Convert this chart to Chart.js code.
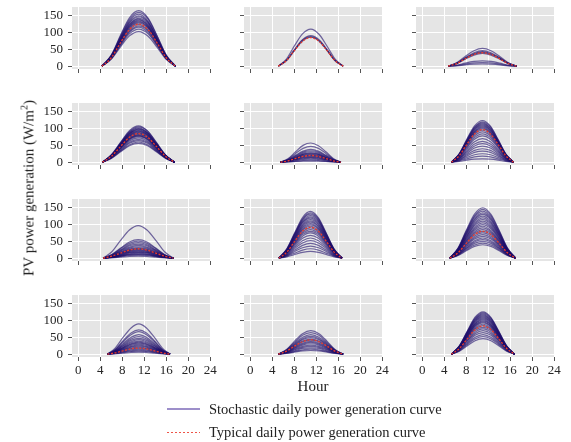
<!DOCTYPE html>
<html>
<head>
<meta charset="utf-8">
<script src="https://cdn.jsdelivr.net/npm/chart.js@4.4.1/dist/chart.umd.min.js"></script>
<style>
  html, body { margin: 0; padding: 0; background: #fff; }
  body { width: 571px; height: 442px; position: relative; overflow: hidden; font-family: "Liberation Serif", "DejaVu Serif", serif; color: #222; }
  canvas { position: absolute; }
  .txt { position: absolute; white-space: nowrap; font-size: 15px; line-height: 1; }
  #ylab { left: 28px; top: 188px; transform: translate(-50%, -50%) rotate(-90deg); }
  #xlab { left: 313px; top: 386px; transform: translate(-50%, -50%); }
  .leg { position: absolute; left: 167px; height: 16px; }
  .leg .sample { position: absolute; left: 0; width: 33px; }
  .leg .lab { position: absolute; left: 42px; top: 0; font-size: 14.5px; line-height: 16px; white-space: nowrap; }
</style>
</head>
<body>
<div id="charts"></div>
<div class="txt" id="ylab">PV power generation (W/m<sup style="font-size:10px;vertical-align:6px">2</sup>)</div>
<div class="txt" id="xlab">Hour</div>
<div class="leg" style="top:401px"><div class="sample" style="top:7px;height:1.5px;background:#9d8fca"></div><div class="lab">Stochastic daily power generation curve</div></div>
<div class="leg" style="top:424px"><div class="sample" style="top:7.5px;height:1px;background:repeating-linear-gradient(to right,#ee5548 0 2px,transparent 2px 4px)"></div><div class="lab">Typical daily power generation curve</div></div>
<script>
// ---------------- DATA ----------------
const X_TICKS = [0, 4, 8, 12, 16, 20, 24];
const Y_TICKS = [0, 50, 100, 150];

// Panel 1 (row 1, col 1)
const HOURS_1 = [4.3, 6.0, 7.65, 9.3, 11, 12.7, 14.35, 16.0, 17.7];
const CURVES_1 = [
  [0, 33, 91, 144, 165, 143, 90, 32, 0],
  [0, 32, 88, 139, 160, 140, 89, 33, 0],
  [0, 31, 85, 135, 155, 134, 84, 30, 0],
  [0, 30, 83, 131, 150, 131, 82, 30, 0],
  [0, 29, 81, 128, 147, 129, 82, 30, 0],
  [0, 29, 79, 124, 143, 125, 78, 28, 0],
  [0, 28, 77, 122, 140, 121, 76, 28, 0],
  [0, 27, 75, 119, 137, 120, 76, 28, 0],
  [0, 27, 74, 117, 134, 116, 73, 26, 0],
  [0, 26, 72, 114, 131, 115, 72, 26, 0],
  [0, 26, 70, 111, 128, 112, 71, 26, 0],
  [0, 25, 68, 108, 124, 107, 67, 24, 0],
  [0, 24, 66, 104, 120, 105, 66, 24, 0],
  [0, 23, 64, 101, 116, 100, 63, 23, 0],
  [0, 22, 61, 96, 110, 96, 61, 22, 0],
  [0, 21, 57, 90, 103, 89, 56, 20, 0]
];
const TYPICAL_1 = [0, 25, 69, 109, 125, 109, 69, 25, 0];

// Panel 2 (row 1, col 2)
const HOURS_2 = [5.1, 6.6, 8.05, 9.5, 11, 12.5, 13.95, 15.4, 16.9];
const CURVES_2 = [
  [0, 22, 61, 96, 110, 95, 60, 22, 0],
  [0, 18, 50, 79, 91, 79, 50, 18, 0],
  [0, 18, 48, 77, 88, 76, 48, 17, 0],
  [0, 17, 47, 75, 86, 75, 47, 17, 0]
];
const TYPICAL_2 = [0, 17, 47, 74, 85, 74, 47, 17, 0];

// Panel 3 (row 1, col 3)
const HOURS_3 = [4.7, 6.3, 7.8, 9.4, 10.95, 12.5, 14.1, 15.6, 17.2];
const CURVES_3 = [
  [0, 11, 29, 46, 53, 46, 29, 11, 0],
  [0, 9, 25, 40, 46, 40, 25, 9, 0],
  [0, 9, 24, 37, 43, 37, 24, 9, 0],
  [0, 8, 23, 36, 41, 36, 23, 8, 0],
  [0, 8, 21, 33, 38, 33, 21, 8, 0],
  [0, 3, 9, 14, 16, 14, 9, 3, 0],
  [0, 2, 6, 10, 11, 10, 6, 2, 0],
  [0, 1, 4, 6, 7, 6, 4, 1, 0]
];
const TYPICAL_3 = [0, 8, 22, 35, 40, 35, 22, 8, 0];

// Panel 4 (row 2, col 1)
const HOURS_4 = [4.4, 6.0, 7.7, 9.3, 10.95, 12.6, 14.2, 15.9, 17.5];
const CURVES_4 = [
  [0, 22, 59, 94, 108, 93, 59, 21, 0],
  [0, 21, 58, 91, 105, 92, 58, 21, 0],
  [0, 20, 56, 89, 102, 88, 55, 20, 0],
  [0, 20, 55, 87, 100, 87, 55, 20, 0],
  [0, 20, 54, 85, 98, 86, 54, 19, 0],
  [0, 19, 53, 84, 96, 83, 52, 19, 0],
  [0, 19, 52, 82, 94, 82, 52, 19, 0],
  [0, 18, 51, 80, 92, 80, 50, 18, 0],
  [0, 18, 50, 78, 90, 79, 50, 18, 0],
  [0, 18, 48, 77, 88, 76, 48, 17, 0],
  [0, 17, 47, 75, 86, 75, 47, 17, 0],
  [0, 17, 46, 73, 84, 73, 46, 17, 0],
  [0, 16, 45, 71, 82, 72, 45, 16, 0],
  [0, 16, 44, 70, 80, 69, 44, 16, 0],
  [0, 16, 43, 68, 78, 68, 43, 15, 0],
  [0, 15, 42, 66, 76, 66, 41, 15, 0],
  [0, 14, 40, 63, 72, 62, 39, 14, 0],
  [0, 14, 37, 59, 68, 59, 37, 13, 0],
  [0, 13, 35, 56, 64, 56, 35, 13, 0],
  [0, 12, 33, 52, 60, 52, 33, 12, 0],
  [0, 11, 31, 49, 56, 49, 31, 11, 0]
];
const TYPICAL_4 = [0, 17, 47, 74, 85, 74, 47, 17, 0];

// Panel 5 (row 2, col 2)
const HOURS_5 = [5.5, 6.9, 8.25, 9.6, 11, 12.4, 13.75, 15.1, 16.5];
const CURVES_5 = [
  [0, 11, 31, 50, 57, 49, 31, 11, 0],
  [0, 9, 26, 41, 47, 41, 26, 9, 0],
  [0, 8, 21, 33, 38, 33, 21, 8, 0],
  [0, 7, 19, 30, 34, 30, 19, 7, 0],
  [0, 6, 17, 27, 31, 27, 17, 6, 0],
  [0, 6, 15, 24, 28, 24, 15, 6, 0],
  [0, 5, 14, 23, 26, 23, 14, 5, 0],
  [0, 5, 13, 21, 24, 21, 13, 5, 0],
  [0, 4, 12, 19, 22, 19, 12, 4, 0],
  [0, 4, 11, 17, 20, 17, 11, 4, 0],
  [0, 4, 10, 16, 18, 16, 10, 4, 0],
  [0, 3, 9, 14, 16, 14, 9, 3, 0],
  [0, 3, 8, 12, 14, 12, 8, 3, 0],
  [0, 2, 7, 10, 12, 10, 7, 2, 0],
  [0, 2, 5, 8, 9, 8, 5, 2, 0],
  [0, 1, 3, 5, 6, 5, 3, 1, 0],
  [0, 1, 2, 3, 3, 3, 2, 1, 0]
];
const TYPICAL_5 = [0, 4, 11, 17, 20, 17, 11, 4, 0];

// Panel 6 (row 2, col 3)
const HOURS_6 = [5.3, 6.7, 8.1, 9.5, 10.95, 12.4, 13.8, 15.2, 16.6];
const CURVES_6 = [
  [0, 25, 68, 108, 124, 107, 67, 24, 0],
  [0, 24, 66, 104, 120, 105, 66, 24, 0],
  [0, 23, 64, 102, 117, 101, 63, 23, 0],
  [0, 23, 63, 99, 114, 99, 62, 22, 0],
  [0, 22, 61, 97, 111, 96, 61, 22, 0],
  [0, 22, 59, 94, 108, 94, 59, 21, 0],
  [0, 21, 58, 91, 105, 91, 57, 21, 0],
  [0, 20, 56, 89, 102, 88, 56, 20, 0],
  [0, 20, 54, 86, 99, 86, 54, 19, 0],
  [0, 19, 52, 83, 95, 82, 52, 19, 0],
  [0, 18, 50, 78, 90, 78, 49, 18, 0],
  [0, 17, 46, 73, 84, 73, 46, 17, 0],
  [0, 16, 43, 68, 78, 68, 43, 15, 0],
  [0, 14, 39, 61, 70, 61, 38, 14, 0],
  [0, 12, 34, 54, 62, 54, 34, 12, 0],
  [0, 11, 30, 48, 55, 48, 30, 11, 0],
  [0, 10, 26, 42, 48, 42, 26, 10, 0],
  [0, 8, 22, 35, 40, 35, 22, 8, 0],
  [0, 7, 18, 29, 33, 29, 18, 7, 0],
  [0, 5, 14, 22, 25, 22, 14, 5, 0],
  [0, 4, 10, 16, 18, 16, 10, 4, 0],
  [0, 2, 6, 9, 10, 9, 6, 2, 0]
];
const TYPICAL_6 = [0, 19, 53, 84, 97, 84, 53, 19, 0];

// Panel 7 (row 3, col 1)
const HOURS_7 = [4.5, 6.1, 7.7, 9.3, 10.9, 12.5, 14.1, 15.7, 17.3];
const CURVES_7 = [
  [0, 19, 53, 84, 97, 84, 53, 19, 0],
  [0, 11, 30, 48, 55, 48, 30, 11, 0],
  [0, 10, 28, 44, 51, 44, 28, 10, 0],
  [0, 9, 25, 40, 46, 40, 25, 9, 0],
  [0, 8, 23, 37, 42, 37, 23, 8, 0],
  [0, 8, 21, 33, 38, 33, 21, 8, 0],
  [0, 7, 19, 30, 34, 30, 19, 7, 0],
  [0, 6, 17, 27, 31, 27, 17, 6, 0],
  [0, 6, 16, 25, 29, 25, 16, 6, 0],
  [0, 5, 15, 23, 27, 23, 15, 5, 0],
  [0, 5, 14, 22, 25, 22, 14, 5, 0],
  [0, 5, 13, 20, 23, 20, 13, 5, 0],
  [0, 4, 12, 18, 21, 18, 12, 4, 0],
  [0, 4, 10, 17, 19, 17, 10, 4, 0],
  [0, 3, 9, 15, 17, 15, 9, 3, 0],
  [0, 3, 8, 13, 15, 13, 8, 3, 0],
  [0, 3, 7, 11, 13, 11, 7, 3, 0],
  [0, 2, 6, 10, 11, 10, 6, 2, 0],
  [0, 2, 5, 8, 9, 8, 5, 2, 0],
  [0, 1, 3, 5, 6, 5, 3, 1, 0]
];
const TYPICAL_7 = [0, 6, 15, 24, 28, 24, 15, 6, 0];

// Panel 8 (row 3, col 2)
const HOURS_8 = [5.2, 6.65, 8.1, 9.5, 10.95, 12.4, 13.8, 15.25, 16.7];
const CURVES_8 = [
  [0, 28, 76, 121, 139, 120, 75, 27, 0],
  [0, 27, 74, 117, 135, 117, 74, 27, 0],
  [0, 26, 72, 114, 131, 113, 71, 26, 0],
  [0, 25, 70, 110, 127, 110, 70, 25, 0],
  [0, 25, 68, 107, 123, 107, 67, 24, 0],
  [0, 24, 65, 104, 119, 103, 65, 24, 0],
  [0, 23, 63, 100, 115, 100, 63, 23, 0],
  [0, 22, 61, 97, 111, 96, 60, 22, 0],
  [0, 21, 59, 93, 107, 93, 59, 21, 0],
  [0, 21, 57, 90, 103, 89, 56, 20, 0],
  [0, 20, 54, 86, 99, 86, 54, 20, 0],
  [0, 19, 52, 83, 95, 82, 52, 19, 0],
  [0, 18, 50, 78, 90, 78, 49, 18, 0],
  [0, 17, 47, 74, 85, 74, 47, 17, 0],
  [0, 16, 44, 70, 80, 70, 44, 16, 0],
  [0, 15, 41, 65, 75, 65, 41, 15, 0],
  [0, 14, 37, 59, 68, 59, 37, 14, 0],
  [0, 12, 33, 52, 60, 52, 33, 12, 0],
  [0, 10, 29, 45, 52, 45, 29, 10, 0],
  [0, 9, 24, 38, 44, 38, 24, 9, 0],
  [0, 7, 20, 31, 36, 31, 20, 7, 0],
  [0, 6, 15, 24, 28, 24, 15, 6, 0],
  [0, 4, 11, 17, 20, 17, 11, 4, 0]
];
const TYPICAL_8 = [0, 18, 51, 80, 92, 80, 51, 18, 0];

// Panel 9 (row 3, col 3)
const HOURS_9 = [5.0, 6.5, 8.0, 9.5, 11, 12.5, 14.0, 15.5, 17.0];
const CURVES_9 = [
  [0, 30, 83, 131, 150, 130, 82, 30, 0],
  [0, 29, 80, 126, 145, 126, 80, 29, 0],
  [0, 28, 77, 122, 140, 121, 76, 28, 0],
  [0, 27, 74, 117, 135, 117, 74, 27, 0],
  [0, 26, 72, 113, 130, 113, 71, 26, 0],
  [0, 25, 69, 109, 125, 108, 68, 25, 0],
  [0, 24, 66, 104, 120, 104, 66, 24, 0],
  [0, 23, 63, 100, 115, 100, 63, 23, 0],
  [0, 22, 61, 96, 110, 95, 60, 22, 0],
  [0, 21, 58, 91, 105, 91, 58, 21, 0],
  [0, 20, 55, 87, 100, 87, 55, 20, 0],
  [0, 19, 52, 83, 95, 82, 52, 19, 0],
  [0, 18, 50, 78, 90, 78, 50, 18, 0],
  [0, 17, 47, 74, 85, 74, 47, 17, 0],
  [0, 16, 44, 70, 80, 70, 44, 16, 0],
  [0, 15, 41, 65, 75, 65, 41, 15, 0],
  [0, 14, 39, 61, 70, 61, 39, 14, 0],
  [0, 13, 36, 57, 65, 57, 36, 13, 0],
  [0, 12, 33, 52, 60, 52, 33, 12, 0],
  [0, 11, 30, 48, 55, 48, 30, 11, 0],
  [0, 10, 28, 44, 50, 44, 28, 10, 0],
  [0, 9, 25, 39, 45, 39, 25, 9, 0],
  [0, 8, 22, 35, 40, 35, 22, 8, 0]
];
const TYPICAL_9 = [0, 16, 44, 70, 80, 70, 44, 16, 0];

// Panel 10 (row 4, col 1)
const HOURS_10 = [5.3, 6.7, 8.15, 9.6, 11, 12.4, 13.85, 15.3, 16.7];
const CURVES_10 = [
  [0, 18, 50, 78, 90, 78, 50, 18, 0],
  [0, 14, 40, 63, 72, 63, 40, 14, 0],
  [0, 13, 37, 58, 67, 58, 37, 13, 0],
  [0, 12, 32, 50, 58, 50, 32, 12, 0],
  [0, 10, 29, 45, 52, 45, 29, 10, 0],
  [0, 9, 26, 41, 47, 41, 26, 9, 0],
  [0, 9, 24, 37, 43, 37, 24, 9, 0],
  [0, 8, 21, 34, 39, 34, 21, 8, 0],
  [0, 7, 20, 31, 36, 31, 20, 7, 0],
  [0, 7, 18, 29, 33, 29, 18, 7, 0],
  [0, 6, 17, 26, 30, 26, 17, 6, 0],
  [0, 5, 15, 23, 27, 23, 15, 5, 0],
  [0, 5, 13, 21, 24, 21, 13, 5, 0],
  [0, 4, 12, 18, 21, 18, 12, 4, 0],
  [0, 4, 10, 16, 18, 16, 10, 4, 0],
  [0, 3, 8, 13, 15, 13, 8, 3, 0],
  [0, 2, 7, 10, 12, 10, 7, 2, 0],
  [0, 2, 5, 8, 9, 8, 5, 2, 0],
  [0, 1, 3, 5, 6, 5, 3, 1, 0]
];
const TYPICAL_10 = [0, 4, 10, 16, 18, 16, 10, 4, 0];

// Panel 11 (row 4, col 2)
const HOURS_11 = [5.1, 6.6, 8.05, 9.5, 11, 12.5, 13.95, 15.4, 16.9];
const CURVES_11 = [
  [0, 14, 39, 61, 70, 61, 39, 14, 0],
  [0, 13, 35, 56, 64, 56, 35, 13, 0],
  [0, 12, 32, 50, 58, 50, 32, 12, 0],
  [0, 11, 29, 46, 53, 46, 29, 11, 0],
  [0, 10, 27, 43, 49, 43, 27, 10, 0],
  [0, 9, 25, 39, 45, 39, 25, 9, 0],
  [0, 8, 23, 37, 42, 37, 23, 8, 0],
  [0, 8, 21, 33, 38, 33, 21, 8, 0],
  [0, 7, 19, 30, 35, 30, 19, 7, 0],
  [0, 6, 17, 27, 31, 27, 17, 6, 0],
  [0, 5, 15, 23, 27, 23, 15, 5, 0],
  [0, 5, 13, 20, 23, 20, 13, 5, 0],
  [0, 4, 10, 17, 19, 17, 10, 4, 0],
  [0, 3, 8, 13, 15, 13, 8, 3, 0],
  [0, 2, 6, 10, 11, 10, 6, 2, 0]
];
const TYPICAL_11 = [0, 9, 24, 37, 43, 37, 24, 9, 0];

// Panel 12 (row 4, col 3)
const HOURS_12 = [5.3, 6.75, 8.2, 9.6, 11.05, 12.5, 13.9, 15.35, 16.8];
const CURVES_12 = [
  [0, 25, 69, 110, 126, 109, 69, 25, 0],
  [0, 25, 68, 107, 123, 107, 67, 24, 0],
  [0, 24, 66, 104, 120, 104, 66, 24, 0],
  [0, 23, 64, 102, 117, 101, 64, 23, 0],
  [0, 23, 63, 99, 114, 99, 62, 22, 0],
  [0, 22, 61, 97, 111, 96, 61, 22, 0],
  [0, 22, 59, 94, 108, 94, 59, 21, 0],
  [0, 21, 58, 91, 105, 91, 57, 21, 0],
  [0, 20, 56, 89, 102, 88, 56, 20, 0],
  [0, 20, 54, 86, 99, 86, 54, 19, 0],
  [0, 19, 53, 84, 96, 83, 53, 19, 0],
  [0, 19, 51, 81, 93, 81, 51, 18, 0],
  [0, 18, 49, 77, 89, 77, 49, 18, 0],
  [0, 17, 47, 74, 85, 74, 47, 17, 0],
  [0, 16, 44, 70, 80, 70, 44, 16, 0],
  [0, 15, 41, 65, 75, 65, 41, 15, 0],
  [0, 14, 39, 61, 70, 61, 39, 14, 0],
  [0, 13, 35, 56, 64, 56, 35, 13, 0],
  [0, 12, 32, 50, 58, 50, 32, 12, 0],
  [0, 10, 29, 45, 52, 45, 29, 10, 0],
  [0, 9, 25, 40, 46, 40, 25, 9, 0]
];
const TYPICAL_12 = [0, 17, 46, 73, 84, 73, 46, 17, 0];

// ---------------- LAYOUT / STYLE ----------------
const PANELS = [
  [HOURS_1, CURVES_1, TYPICAL_1], [HOURS_2, CURVES_2, TYPICAL_2], [HOURS_3, CURVES_3, TYPICAL_3],
  [HOURS_4, CURVES_4, TYPICAL_4], [HOURS_5, CURVES_5, TYPICAL_5], [HOURS_6, CURVES_6, TYPICAL_6],
  [HOURS_7, CURVES_7, TYPICAL_7], [HOURS_8, CURVES_8, TYPICAL_8], [HOURS_9, CURVES_9, TYPICAL_9],
  [HOURS_10, CURVES_10, TYPICAL_10], [HOURS_11, CURVES_11, TYPICAL_11], [HOURS_12, CURVES_12, TYPICAL_12]
];
const COL_LEFT = [72, 244, 416];
const ROW_TOP = [7, 103, 199, 295];
const PLOT_W = 139, PLOT_H = 62;
const PAD_L = 50, PAD_T = 10, PAD_R = 14, PAD_B = 30;
const STOCH_COLOR = 'rgba(28, 12, 105, 0.6)';
const TYP_COLOR = 'rgb(235, 60, 40)';
const TICK_FONT = { family: 'Liberation Serif', size: 13 };

const bgPlugin = {
  id: 'bg',
  beforeDraw(chart) {
    const a = chart.chartArea, c = chart.ctx;
    c.save();
    c.fillStyle = '#e5e5e5';
    c.fillRect(a.left, a.top, a.right - a.left, a.bottom - a.top);
    c.restore();
  }
};

function zeroPad(s) { s.paddingLeft = 0; s.paddingRight = 0; s.paddingTop = 0; s.paddingBottom = 0; }

const holder = document.getElementById('charts');
PANELS.forEach((p, i) => {
  const [hours, curves, typical] = p;
  const r = Math.floor(i / 3), col = i % 3;
  const cv = document.createElement('canvas');
  const W = PAD_L + PLOT_W + PAD_R, H = PAD_T + PLOT_H + PAD_B;
  cv.width = W; cv.height = H;
  cv.style.width = W + 'px'; cv.style.height = H + 'px';
  cv.style.left = (COL_LEFT[col] - PAD_L) + 'px';
  cv.style.top = (ROW_TOP[r] - PAD_T) + 'px';
  holder.appendChild(cv);

  const datasets = [{
    data: hours.map((h, k) => ({ x: h, y: typical[k] })),
    borderColor: TYP_COLOR, borderWidth: 1.3, borderDash: [2, 1.6],
    pointRadius: 0, cubicInterpolationMode: 'monotone', fill: false, order: 0
  }];
  curves.forEach(cur => datasets.push({
    data: hours.map((h, k) => ({ x: h, y: cur[k] })),
    borderColor: STOCH_COLOR, borderWidth: 1.2,
    pointRadius: 0, cubicInterpolationMode: 'monotone', fill: false, order: 1
  }));

  new Chart(cv, {
    type: 'line',
    data: { datasets },
    plugins: [bgPlugin],
    options: {
      responsive: false, animation: false, devicePixelRatio: 1,
      layout: { padding: { left: 0, top: PAD_T, right: PAD_R, bottom: 0 } },
      plugins: { legend: { display: false }, tooltip: { enabled: false } },
      events: [],
      scales: {
        x: {
          type: 'linear', min: -1.15, max: 24.15,
          afterBuildTicks: s => { s.ticks = X_TICKS.map(v => ({ value: v })); },
          afterFit: s => { s.height = PAD_B; zeroPad(s); },
          ticks: { display: r === 3, font: TICK_FONT, color: '#262626', padding: 2, maxRotation: 0, autoSkip: false },
          grid: { color: '#ffffff', lineWidth: 1, tickColor: '#555', tickLength: 4, drawTicks: true },
          border: { display: false }
        },
        y: {
          type: 'linear', min: -8.4, max: 176,
          afterBuildTicks: s => { s.ticks = Y_TICKS.map(v => ({ value: v })); },
          afterFit: s => { s.width = PAD_L; zeroPad(s); },
          ticks: { display: col === 0, font: TICK_FONT, color: '#262626', padding: 5, autoSkip: false },
          grid: { color: '#ffffff', lineWidth: 1, tickColor: '#555', tickLength: 4, drawTicks: true },
          border: { display: false }
        }
      }
    }
  });
});
</script>
</body>
</html>
